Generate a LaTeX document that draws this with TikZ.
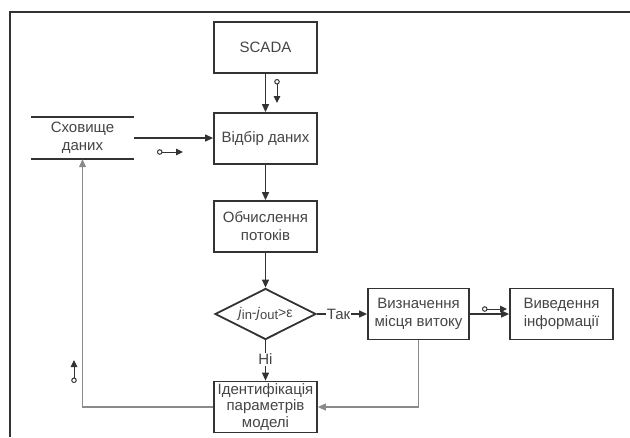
\documentclass[tikz,border=0pt]{standalone}
\usepackage{fontspec}
\setmainfont{Liberation Sans}
\usetikzlibrary{arrows.meta,shapes.geometric}
\definecolor{ink}{HTML}{333333}
\definecolor{txt}{HTML}{454545}
\definecolor{soft}{HTML}{8A8A8A}
\begin{document}
\begin{tikzpicture}[x=1pt,y=-1pt,
  block/.style={draw=ink, line width=1.8pt, fill=white, minimum width=103pt,
    minimum height=51pt, inner sep=0pt, align=center, text=txt,
    font=\fontsize{15}{18}\selectfont},
  flow/.style={draw=ink, line width=1.2pt, -{Triangle[length=8pt,width=7pt]}},
  back/.style={draw=soft, line width=1.2pt, -{Triangle[length=8pt,width=7pt]}},
  datamark/.style={draw=ink, line width=1pt,
    {Circle[open,length=5.5pt,width=5.5pt]}-{Triangle[length=7pt,width=6.5pt]}},
  lbl/.style={fill=white, inner sep=1pt, text=txt, font=\fontsize{15}{16}\selectfont}
]
\useasboundingbox (0,0) rectangle (630,437);
\fill[white] (0,0) rectangle (630,437);

% frame
\draw[ink, line width=1.5pt] (10,437) -- (10,12) -- (630,12);

% blocks
\node[block] (scada) at (265.5,47.5) {SCADA};
\node[block] (vidbir) at (265.5,138.5) {Відбір даних};
\node[block] (obch) at (265.5,226.5) {Обчислення\\потоків};
\node[diamond, draw=ink, line width=1.8pt, fill=white, aspect=2,
      minimum width=101pt, minimum height=51pt, inner sep=0pt, text=txt,
      font=\fontsize{14}{15}\selectfont] (cond) at (265.5,314)
  {\textit{j}\raisebox{-1.5pt}{\fontsize{13}{13}\selectfont in}-\textit{j}\raisebox{-1.5pt}{\fontsize{13}{13}\selectfont out}>ε};
\node[block, minimum width=101pt] (viz) at (418.5,314) {Визначення\\місця витоку};
\node[block] (vyv) at (561.5,314) {Виведення\\інформації};
\node[block, font=\fontsize{15}{16.5}\selectfont] (ident) at (265.5,407) {Ідентифікація\\параметрів\\моделі};

% data store
\node[minimum width=103pt, minimum height=42pt, inner sep=0pt, align=center,
      text=txt, font=\fontsize{15}{18}\selectfont] (store) at (82.5,138) {Сховище\\даних};
\draw[ink, line width=1.8pt] (store.north west) -- (store.north east);
\draw[ink, line width=1.8pt] (store.south west) -- (store.south east);

% main flow
\draw[flow] (scada) -- (vidbir);
\draw[flow] (store.east) -- (store.east -| vidbir.west);
\draw[flow] (vidbir) -- (obch);
\draw[flow] (obch) -- (cond);
\draw[flow] (cond) -- node[lbl, pos=0.43] {Так} (viz);
\draw[flow] (cond) -- node[lbl, pos=0.47] {Ні} (ident);
\draw[flow] (viz) -- (vyv);

% feedback
\draw[back] (viz.south) |- (ident.east);
\draw[back] (ident.west) -| (store.south);

% data markers
\coordinate (m1a) at (277,79);
\coordinate (m1b) at (277,103);
\coordinate (m2a) at (157,152);
\coordinate (m2b) at (183,152);
\coordinate (m3a) at (482,309);
\coordinate (m3b) at (507,309);
\coordinate (m4a) at (74,383);
\coordinate (m4b) at (74,360);
\draw[datamark] (m1a) -- (m1b);
\draw[datamark] (m2a) -- (m2b);
\draw[datamark] (m3a) -- (m3b);
\draw[datamark] (m4a) -- (m4b);
\end{tikzpicture}
\end{document}
